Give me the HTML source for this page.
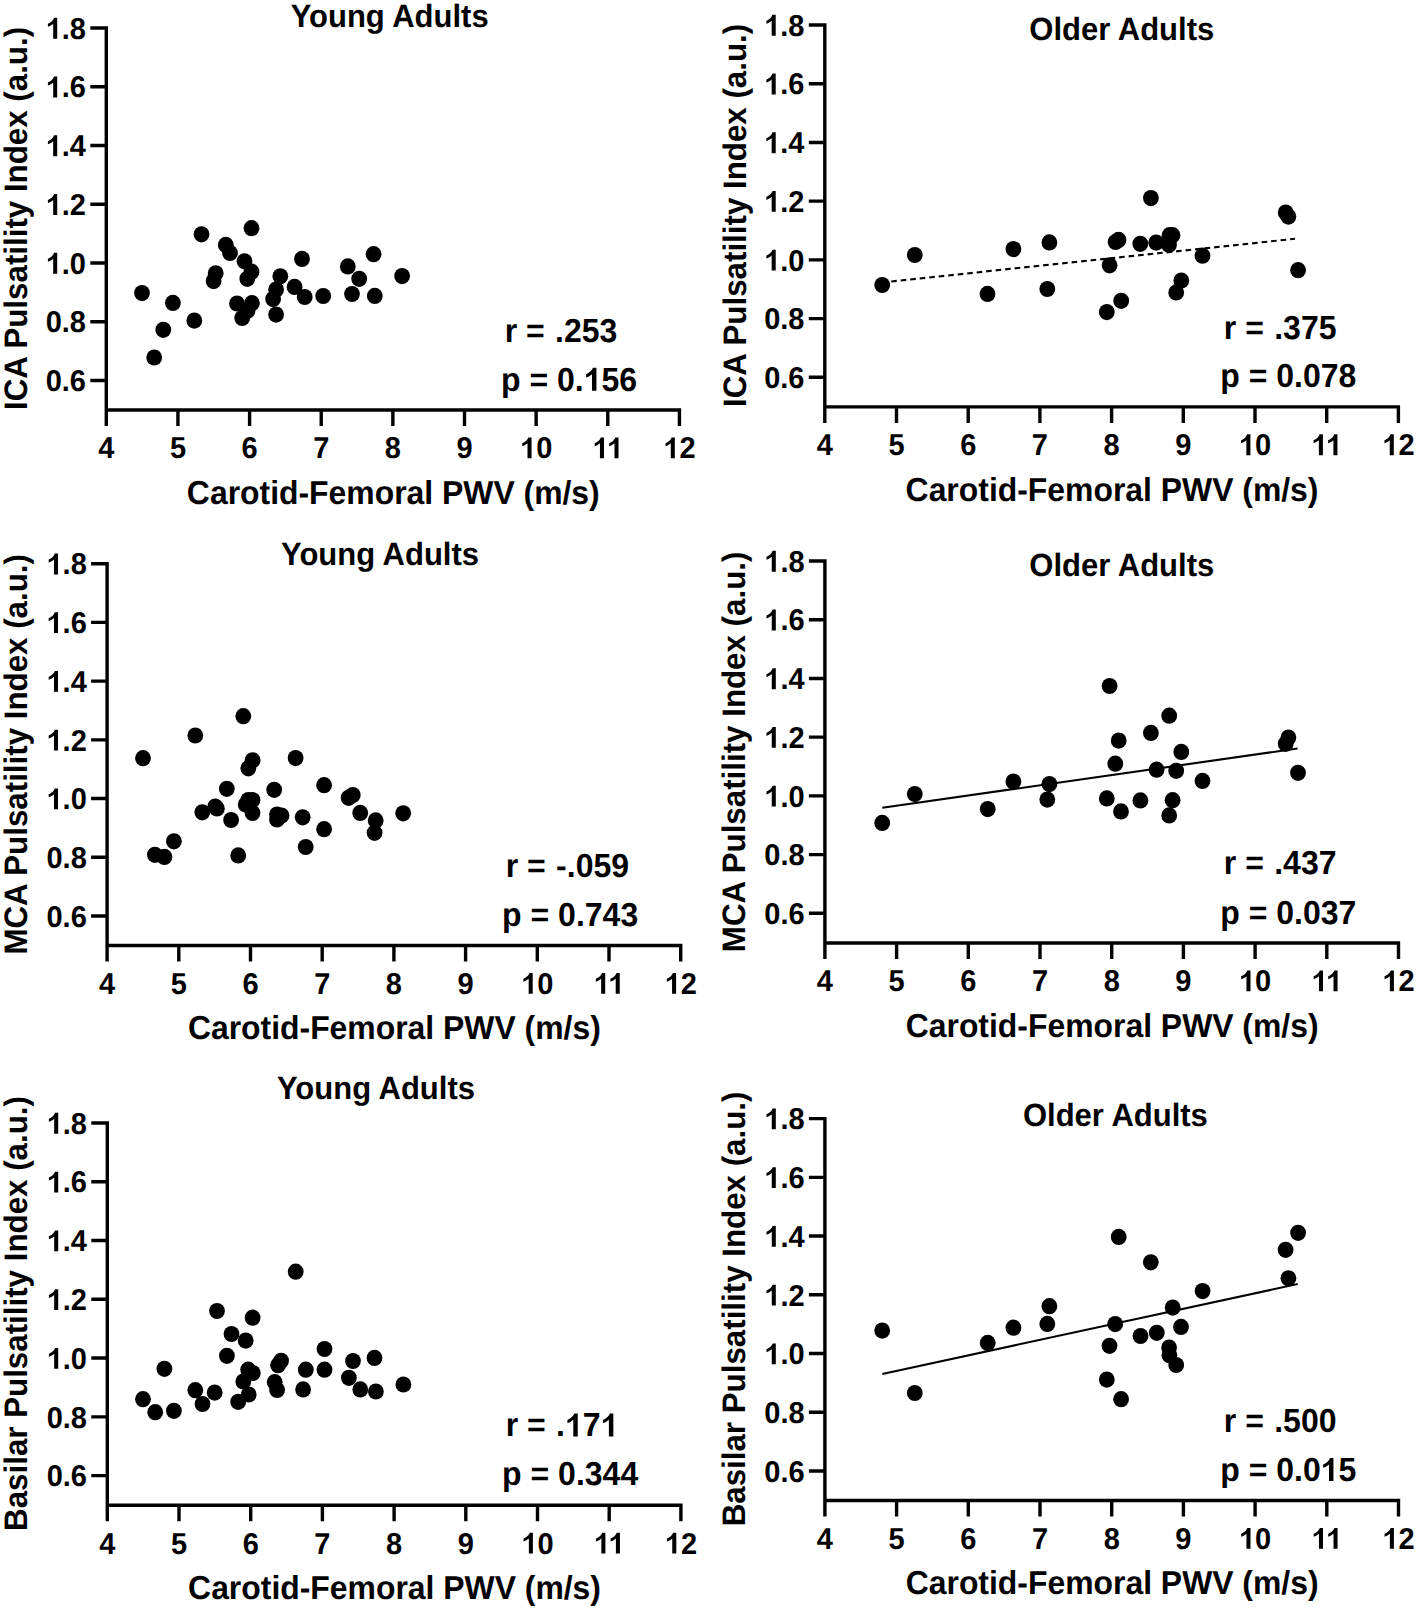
<!DOCTYPE html>
<html><head><meta charset="utf-8"><title>Pulsatility Index vs Carotid-Femoral PWV</title>
<style>
html,body{margin:0;padding:0;background:#fff;}
svg{display:block;}
text{font-family:"Liberation Sans", sans-serif;font-weight:bold;fill:#000;white-space:pre;text-rendering:geometricPrecision;}
.o{fill:none;}
</style></head><body>
<svg width="1417" height="1609" viewBox="0 0 1417 1609">
<rect x="0" y="0" width="1417" height="1609" fill="#fff"/>
<g>
<path d="M90.3 28H106.3V426" fill="none" stroke="#000" stroke-width="3.4"/>
<path d="M90.3 380.5H106.3M90.3 321.75H106.3M90.3 263H106.3M90.3 204.25H106.3M90.3 145.5H106.3M90.3 86.75H106.3" stroke="#000" stroke-width="3.4"/>
<path d="M106.3 410H679.42V426" fill="none" stroke="#000" stroke-width="3.4"/>
<path d="M177.94 410V426M249.58 410V426M321.22 410V426M392.86 410V426M464.5 410V426M536.14 410V426M607.78 410V426" stroke="#000" stroke-width="3.4"/>
<text id="t0" transform="translate(86 391.2) scale(1 1.04)" font-size="29" text-anchor="end">0.6</text>
<text id="t1" transform="translate(86 332.45) scale(1 1.04)" font-size="29" text-anchor="end">0.8</text>
<text id="t2" transform="translate(86 273.7) scale(1 1.04)" font-size="29" text-anchor="end"><tspan class="o">1</tspan>.0</text>
<text id="t3" transform="translate(86 214.95) scale(1 1.04)" font-size="29" text-anchor="end"><tspan class="o">1</tspan>.2</text>
<text id="t4" transform="translate(86 156.2) scale(1 1.04)" font-size="29" text-anchor="end"><tspan class="o">1</tspan>.4</text>
<text id="t5" transform="translate(86 97.45) scale(1 1.04)" font-size="29" text-anchor="end"><tspan class="o">1</tspan>.6</text>
<text id="t6" transform="translate(86 38.7) scale(1 1.04)" font-size="29" text-anchor="end"><tspan class="o">1</tspan>.8</text>
<text id="t7" transform="translate(106.3 458.3) scale(1 1.04)" font-size="29" text-anchor="middle">4</text>
<text id="t8" transform="translate(177.94 458.3) scale(1 1.04)" font-size="29" text-anchor="middle">5</text>
<text id="t9" transform="translate(249.58 458.3) scale(1 1.04)" font-size="29" text-anchor="middle">6</text>
<text id="t10" transform="translate(321.22 458.3) scale(1 1.04)" font-size="29" text-anchor="middle">7</text>
<text id="t11" transform="translate(392.86 458.3) scale(1 1.04)" font-size="29" text-anchor="middle">8</text>
<text id="t12" transform="translate(464.5 458.3) scale(1 1.04)" font-size="29" text-anchor="middle">9</text>
<text id="t13" transform="translate(536.14 458.3) scale(1 1.04)" font-size="29" text-anchor="middle"><tspan class="o">1</tspan>0</text>
<text id="t14" transform="translate(607.78 458.3) scale(1 1.04)" font-size="29" text-anchor="middle"><tspan class="o">1</tspan><tspan class="o">1</tspan></text>
<text id="t15" transform="translate(679.42 458.3) scale(1 1.04)" font-size="29" text-anchor="middle"><tspan class="o">1</tspan>2</text>
<text id="t16" transform="translate(186.86 503.6) scale(1 1.04)" font-size="31.9">Carotid-Femoral PWV (m/s)</text>
<text transform="translate(27.1 410.05) rotate(-90) scale(1 1.04)" font-size="31.3">ICA Pulsatility Index (a.u.)</text>
<text id="t17" transform="translate(290.65 26.8) scale(1 1.04)" font-size="31">Young Adults</text>
<text id="t18" transform="translate(504.7 341.8) scale(1 1.04)" font-size="32">r = <tspan dx="1.5">.</tspan>253</text>
<text id="t19" transform="translate(501 390.7) scale(1 1.04)" font-size="32">p = 0.<tspan class="o">1</tspan>56</text>
<ellipse cx="142" cy="293.1" rx="7.9" ry="8.1"/>
<ellipse cx="172.9" cy="302.9" rx="7.9" ry="8.1"/>
<ellipse cx="163.3" cy="329.8" rx="7.9" ry="8.1"/>
<ellipse cx="154.2" cy="357.5" rx="7.9" ry="8.1"/>
<ellipse cx="194.3" cy="320.6" rx="7.9" ry="8.1"/>
<ellipse cx="201.5" cy="234.3" rx="7.9" ry="8.1"/>
<ellipse cx="225.8" cy="244.9" rx="7.9" ry="8.1"/>
<ellipse cx="230" cy="252.9" rx="7.9" ry="8.1"/>
<ellipse cx="215.7" cy="273.3" rx="7.9" ry="8.1"/>
<ellipse cx="213.6" cy="281.1" rx="7.9" ry="8.1"/>
<ellipse cx="251.5" cy="228.2" rx="7.9" ry="8.1"/>
<ellipse cx="244.5" cy="261.3" rx="7.9" ry="8.1"/>
<ellipse cx="251.5" cy="271.7" rx="7.9" ry="8.1"/>
<ellipse cx="247.3" cy="278.8" rx="7.9" ry="8.1"/>
<ellipse cx="237" cy="303.5" rx="7.9" ry="8.1"/>
<ellipse cx="251.9" cy="303.2" rx="7.9" ry="8.1"/>
<ellipse cx="247.5" cy="310.8" rx="7.9" ry="8.1"/>
<ellipse cx="242.2" cy="318" rx="7.9" ry="8.1"/>
<ellipse cx="280.3" cy="276.3" rx="7.9" ry="8.1"/>
<ellipse cx="276.1" cy="289.5" rx="7.9" ry="8.1"/>
<ellipse cx="273.1" cy="299" rx="7.9" ry="8.1"/>
<ellipse cx="276.1" cy="314.6" rx="7.9" ry="8.1"/>
<ellipse cx="302" cy="258.9" rx="7.9" ry="8.1"/>
<ellipse cx="294.6" cy="286.9" rx="7.9" ry="8.1"/>
<ellipse cx="304.7" cy="297" rx="7.9" ry="8.1"/>
<ellipse cx="323.2" cy="296" rx="7.9" ry="8.1"/>
<ellipse cx="347.8" cy="266.4" rx="7.9" ry="8.1"/>
<ellipse cx="373.6" cy="254.2" rx="7.9" ry="8.1"/>
<ellipse cx="359.2" cy="278.8" rx="7.9" ry="8.1"/>
<ellipse cx="352" cy="294" rx="7.9" ry="8.1"/>
<ellipse cx="374.8" cy="295.9" rx="7.9" ry="8.1"/>
<ellipse cx="402.1" cy="276.1" rx="7.9" ry="8.1"/>
</g>
<g>
<path d="M808.8 25H824.8V422.9" fill="none" stroke="#000" stroke-width="3.4"/>
<path d="M808.8 377.3H824.8M808.8 318.58H824.8M808.8 259.87H824.8M808.8 201.15H824.8M808.8 142.43H824.8M808.8 83.72H824.8" stroke="#000" stroke-width="3.4"/>
<path d="M824.8 406.9H1398.4V422.9" fill="none" stroke="#000" stroke-width="3.4"/>
<path d="M896.5 406.9V422.9M968.2 406.9V422.9M1039.9 406.9V422.9M1111.6 406.9V422.9M1183.3 406.9V422.9M1255 406.9V422.9M1326.7 406.9V422.9" stroke="#000" stroke-width="3.4"/>
<text id="t20" transform="translate(804.5 388) scale(1 1.04)" font-size="29" text-anchor="end">0.6</text>
<text id="t21" transform="translate(804.5 329.28) scale(1 1.04)" font-size="29" text-anchor="end">0.8</text>
<text id="t22" transform="translate(804.5 270.57) scale(1 1.04)" font-size="29" text-anchor="end"><tspan class="o">1</tspan>.0</text>
<text id="t23" transform="translate(804.5 211.85) scale(1 1.04)" font-size="29" text-anchor="end"><tspan class="o">1</tspan>.2</text>
<text id="t24" transform="translate(804.5 153.13) scale(1 1.04)" font-size="29" text-anchor="end"><tspan class="o">1</tspan>.4</text>
<text id="t25" transform="translate(804.5 94.42) scale(1 1.04)" font-size="29" text-anchor="end"><tspan class="o">1</tspan>.6</text>
<text id="t26" transform="translate(804.5 35.7) scale(1 1.04)" font-size="29" text-anchor="end"><tspan class="o">1</tspan>.8</text>
<text id="t27" transform="translate(824.8 455.2) scale(1 1.04)" font-size="29" text-anchor="middle">4</text>
<text id="t28" transform="translate(896.5 455.2) scale(1 1.04)" font-size="29" text-anchor="middle">5</text>
<text id="t29" transform="translate(968.2 455.2) scale(1 1.04)" font-size="29" text-anchor="middle">6</text>
<text id="t30" transform="translate(1039.9 455.2) scale(1 1.04)" font-size="29" text-anchor="middle">7</text>
<text id="t31" transform="translate(1111.6 455.2) scale(1 1.04)" font-size="29" text-anchor="middle">8</text>
<text id="t32" transform="translate(1183.3 455.2) scale(1 1.04)" font-size="29" text-anchor="middle">9</text>
<text id="t33" transform="translate(1255 455.2) scale(1 1.04)" font-size="29" text-anchor="middle"><tspan class="o">1</tspan>0</text>
<text id="t34" transform="translate(1326.7 455.2) scale(1 1.04)" font-size="29" text-anchor="middle"><tspan class="o">1</tspan><tspan class="o">1</tspan></text>
<text id="t35" transform="translate(1398.4 455.2) scale(1 1.04)" font-size="29" text-anchor="middle"><tspan class="o">1</tspan>2</text>
<text id="t36" transform="translate(905.6 500.5) scale(1 1.04)" font-size="31.9">Carotid-Femoral PWV (m/s)</text>
<text transform="translate(746 406.95) rotate(-90) scale(1 1.04)" font-size="31.3">ICA Pulsatility Index (a.u.)</text>
<text id="t37" transform="translate(1029.35 39.5) scale(1 1.04)" font-size="31">Older Adults</text>
<text id="t38" transform="translate(1223.8 338.5) scale(1 1.04)" font-size="32">r = <tspan dx="1.5">.</tspan>375</text>
<text id="t39" transform="translate(1220.2 387.4) scale(1 1.04)" font-size="32">p = 0.078</text>
<line x1="882.2" y1="282.4" x2="1295" y2="238.8" stroke="#000" stroke-width="2.1" stroke-dasharray="5.6 3.95" stroke-dashoffset="0.5"/>
<ellipse cx="882.2" cy="285" rx="7.9" ry="8.1"/>
<ellipse cx="914.8" cy="255" rx="7.9" ry="8.1"/>
<ellipse cx="987.5" cy="293.9" rx="7.9" ry="8.1"/>
<ellipse cx="1013.4" cy="249.1" rx="7.9" ry="8.1"/>
<ellipse cx="1049.4" cy="242.4" rx="7.9" ry="8.1"/>
<ellipse cx="1047.3" cy="289" rx="7.9" ry="8.1"/>
<ellipse cx="1150.9" cy="198.1" rx="7.9" ry="8.1"/>
<ellipse cx="1115.6" cy="242" rx="7.9" ry="8.1"/>
<ellipse cx="1118.5" cy="239.9" rx="7.9" ry="8.1"/>
<ellipse cx="1140.3" cy="243.8" rx="7.9" ry="8.1"/>
<ellipse cx="1156.2" cy="242.6" rx="7.9" ry="8.1"/>
<ellipse cx="1169.6" cy="235.2" rx="7.9" ry="8.1"/>
<ellipse cx="1172.5" cy="235.2" rx="7.9" ry="8.1"/>
<ellipse cx="1169" cy="244.8" rx="7.9" ry="8.1"/>
<ellipse cx="1109.6" cy="265.3" rx="7.9" ry="8.1"/>
<ellipse cx="1202.5" cy="255.7" rx="7.9" ry="8.1"/>
<ellipse cx="1181.3" cy="280.5" rx="7.9" ry="8.1"/>
<ellipse cx="1176.2" cy="292.4" rx="7.9" ry="8.1"/>
<ellipse cx="1121.2" cy="300.8" rx="7.9" ry="8.1"/>
<ellipse cx="1106.8" cy="312.1" rx="7.9" ry="8.1"/>
<ellipse cx="1285.7" cy="212.5" rx="7.9" ry="8.1"/>
<ellipse cx="1288.4" cy="216.6" rx="7.9" ry="8.1"/>
<ellipse cx="1298.1" cy="270.2" rx="7.9" ry="8.1"/>
</g>
<g>
<path d="M91.1 563.7H107.1V961.5" fill="none" stroke="#000" stroke-width="3.4"/>
<path d="M91.1 916H107.1M91.1 857.28H107.1M91.1 798.57H107.1M91.1 739.85H107.1M91.1 681.13H107.1M91.1 622.42H107.1" stroke="#000" stroke-width="3.4"/>
<path d="M107.1 945.5H680.7V961.5" fill="none" stroke="#000" stroke-width="3.4"/>
<path d="M178.8 945.5V961.5M250.5 945.5V961.5M322.2 945.5V961.5M393.9 945.5V961.5M465.6 945.5V961.5M537.3 945.5V961.5M609 945.5V961.5" stroke="#000" stroke-width="3.4"/>
<text id="t40" transform="translate(86.8 926.7) scale(1 1.04)" font-size="29" text-anchor="end">0.6</text>
<text id="t41" transform="translate(86.8 867.98) scale(1 1.04)" font-size="29" text-anchor="end">0.8</text>
<text id="t42" transform="translate(86.8 809.27) scale(1 1.04)" font-size="29" text-anchor="end"><tspan class="o">1</tspan>.0</text>
<text id="t43" transform="translate(86.8 750.55) scale(1 1.04)" font-size="29" text-anchor="end"><tspan class="o">1</tspan>.2</text>
<text id="t44" transform="translate(86.8 691.83) scale(1 1.04)" font-size="29" text-anchor="end"><tspan class="o">1</tspan>.4</text>
<text id="t45" transform="translate(86.8 633.12) scale(1 1.04)" font-size="29" text-anchor="end"><tspan class="o">1</tspan>.6</text>
<text id="t46" transform="translate(86.8 574.4) scale(1 1.04)" font-size="29" text-anchor="end"><tspan class="o">1</tspan>.8</text>
<text id="t47" transform="translate(107.1 993.8) scale(1 1.04)" font-size="29" text-anchor="middle">4</text>
<text id="t48" transform="translate(178.8 993.8) scale(1 1.04)" font-size="29" text-anchor="middle">5</text>
<text id="t49" transform="translate(250.5 993.8) scale(1 1.04)" font-size="29" text-anchor="middle">6</text>
<text id="t50" transform="translate(322.2 993.8) scale(1 1.04)" font-size="29" text-anchor="middle">7</text>
<text id="t51" transform="translate(393.9 993.8) scale(1 1.04)" font-size="29" text-anchor="middle">8</text>
<text id="t52" transform="translate(465.6 993.8) scale(1 1.04)" font-size="29" text-anchor="middle">9</text>
<text id="t53" transform="translate(537.3 993.8) scale(1 1.04)" font-size="29" text-anchor="middle"><tspan class="o">1</tspan>0</text>
<text id="t54" transform="translate(609 993.8) scale(1 1.04)" font-size="29" text-anchor="middle"><tspan class="o">1</tspan><tspan class="o">1</tspan></text>
<text id="t55" transform="translate(680.7 993.8) scale(1 1.04)" font-size="29" text-anchor="middle"><tspan class="o">1</tspan>2</text>
<text id="t56" transform="translate(187.9 1039.1) scale(1 1.04)" font-size="31.9">Carotid-Femoral PWV (m/s)</text>
<text transform="translate(27 954.6) rotate(-90) scale(1 1.04)" font-size="31.3">MCA Pulsatility Index (a.u.)</text>
<text id="t57" transform="translate(281 564.8) scale(1 1.04)" font-size="31">Young Adults</text>
<text id="t58" transform="translate(505.7 877.2) scale(1 1.04)" font-size="32">r = <tspan dx="1.5">-</tspan>.059</text>
<text id="t59" transform="translate(502.1 926.1) scale(1 1.04)" font-size="32">p = 0.743</text>
<ellipse cx="143" cy="758.2" rx="7.9" ry="8.1"/>
<ellipse cx="195.3" cy="735.5" rx="7.9" ry="8.1"/>
<ellipse cx="243.3" cy="716.2" rx="7.9" ry="8.1"/>
<ellipse cx="252.6" cy="760.3" rx="7.9" ry="8.1"/>
<ellipse cx="248.3" cy="768.3" rx="7.9" ry="8.1"/>
<ellipse cx="226.8" cy="788.8" rx="7.9" ry="8.1"/>
<ellipse cx="202.3" cy="812.3" rx="7.9" ry="8.1"/>
<ellipse cx="215.2" cy="806.5" rx="7.9" ry="8.1"/>
<ellipse cx="216.9" cy="808.5" rx="7.9" ry="8.1"/>
<ellipse cx="231.1" cy="820" rx="7.9" ry="8.1"/>
<ellipse cx="248.3" cy="800.1" rx="7.9" ry="8.1"/>
<ellipse cx="252.5" cy="800.1" rx="7.9" ry="8.1"/>
<ellipse cx="245.7" cy="804.6" rx="7.9" ry="8.1"/>
<ellipse cx="252.5" cy="812.9" rx="7.9" ry="8.1"/>
<ellipse cx="274.2" cy="789.8" rx="7.9" ry="8.1"/>
<ellipse cx="277" cy="814.6" rx="7.9" ry="8.1"/>
<ellipse cx="281.5" cy="815.6" rx="7.9" ry="8.1"/>
<ellipse cx="277" cy="819.5" rx="7.9" ry="8.1"/>
<ellipse cx="173.9" cy="841.3" rx="7.9" ry="8.1"/>
<ellipse cx="154.9" cy="854.8" rx="7.9" ry="8.1"/>
<ellipse cx="164.4" cy="856.9" rx="7.9" ry="8.1"/>
<ellipse cx="238.2" cy="855.4" rx="7.9" ry="8.1"/>
<ellipse cx="295.6" cy="758.1" rx="7.9" ry="8.1"/>
<ellipse cx="324.1" cy="785.2" rx="7.9" ry="8.1"/>
<ellipse cx="348.6" cy="797.8" rx="7.9" ry="8.1"/>
<ellipse cx="352.8" cy="795" rx="7.9" ry="8.1"/>
<ellipse cx="360.2" cy="812.9" rx="7.9" ry="8.1"/>
<ellipse cx="375.7" cy="820.4" rx="7.9" ry="8.1"/>
<ellipse cx="374.6" cy="832.8" rx="7.9" ry="8.1"/>
<ellipse cx="403.2" cy="813.3" rx="7.9" ry="8.1"/>
<ellipse cx="302.7" cy="817.3" rx="7.9" ry="8.1"/>
<ellipse cx="324.1" cy="829.2" rx="7.9" ry="8.1"/>
<ellipse cx="305.7" cy="847" rx="7.9" ry="8.1"/>
</g>
<g>
<path d="M808.9 561H824.9V959" fill="none" stroke="#000" stroke-width="3.4"/>
<path d="M808.9 913.3H824.9M808.9 854.58H824.9M808.9 795.87H824.9M808.9 737.15H824.9M808.9 678.43H824.9M808.9 619.72H824.9" stroke="#000" stroke-width="3.4"/>
<path d="M824.9 943H1398.5V959" fill="none" stroke="#000" stroke-width="3.4"/>
<path d="M896.6 943V959M968.3 943V959M1040 943V959M1111.7 943V959M1183.4 943V959M1255.1 943V959M1326.8 943V959" stroke="#000" stroke-width="3.4"/>
<text id="t60" transform="translate(804.6 924) scale(1 1.04)" font-size="29" text-anchor="end">0.6</text>
<text id="t61" transform="translate(804.6 865.28) scale(1 1.04)" font-size="29" text-anchor="end">0.8</text>
<text id="t62" transform="translate(804.6 806.57) scale(1 1.04)" font-size="29" text-anchor="end"><tspan class="o">1</tspan>.0</text>
<text id="t63" transform="translate(804.6 747.85) scale(1 1.04)" font-size="29" text-anchor="end"><tspan class="o">1</tspan>.2</text>
<text id="t64" transform="translate(804.6 689.13) scale(1 1.04)" font-size="29" text-anchor="end"><tspan class="o">1</tspan>.4</text>
<text id="t65" transform="translate(804.6 630.42) scale(1 1.04)" font-size="29" text-anchor="end"><tspan class="o">1</tspan>.6</text>
<text id="t66" transform="translate(804.6 571.7) scale(1 1.04)" font-size="29" text-anchor="end"><tspan class="o">1</tspan>.8</text>
<text id="t67" transform="translate(824.9 991.3) scale(1 1.04)" font-size="29" text-anchor="middle">4</text>
<text id="t68" transform="translate(896.6 991.3) scale(1 1.04)" font-size="29" text-anchor="middle">5</text>
<text id="t69" transform="translate(968.3 991.3) scale(1 1.04)" font-size="29" text-anchor="middle">6</text>
<text id="t70" transform="translate(1040 991.3) scale(1 1.04)" font-size="29" text-anchor="middle">7</text>
<text id="t71" transform="translate(1111.7 991.3) scale(1 1.04)" font-size="29" text-anchor="middle">8</text>
<text id="t72" transform="translate(1183.4 991.3) scale(1 1.04)" font-size="29" text-anchor="middle">9</text>
<text id="t73" transform="translate(1255.1 991.3) scale(1 1.04)" font-size="29" text-anchor="middle"><tspan class="o">1</tspan>0</text>
<text id="t74" transform="translate(1326.8 991.3) scale(1 1.04)" font-size="29" text-anchor="middle"><tspan class="o">1</tspan><tspan class="o">1</tspan></text>
<text id="t75" transform="translate(1398.5 991.3) scale(1 1.04)" font-size="29" text-anchor="middle"><tspan class="o">1</tspan>2</text>
<text id="t76" transform="translate(905.7 1036.6) scale(1 1.04)" font-size="31.9">Carotid-Femoral PWV (m/s)</text>
<text transform="translate(745 952.15) rotate(-90) scale(1 1.04)" font-size="31.3">MCA Pulsatility Index (a.u.)</text>
<text id="t77" transform="translate(1029.35 575.5) scale(1 1.04)" font-size="31">Older Adults</text>
<text id="t78" transform="translate(1223.8 874.4) scale(1 1.04)" font-size="32">r = <tspan dx="1.5">.</tspan>437</text>
<text id="t79" transform="translate(1220.2 923.8) scale(1 1.04)" font-size="32">p = 0.037</text>
<line x1="882.3" y1="807.8" x2="1297.6" y2="748.5" stroke="#000" stroke-width="2.1"/>
<ellipse cx="882.2" cy="822.9" rx="7.9" ry="8.1"/>
<ellipse cx="914.8" cy="794" rx="7.9" ry="8.1"/>
<ellipse cx="987.7" cy="809.1" rx="7.9" ry="8.1"/>
<ellipse cx="1013.4" cy="781.6" rx="7.9" ry="8.1"/>
<ellipse cx="1049.4" cy="784.1" rx="7.9" ry="8.1"/>
<ellipse cx="1047.3" cy="799.6" rx="7.9" ry="8.1"/>
<ellipse cx="1109.6" cy="686" rx="7.9" ry="8.1"/>
<ellipse cx="1169.2" cy="715.7" rx="7.9" ry="8.1"/>
<ellipse cx="1150.9" cy="732.9" rx="7.9" ry="8.1"/>
<ellipse cx="1118.7" cy="740.6" rx="7.9" ry="8.1"/>
<ellipse cx="1181.3" cy="751.9" rx="7.9" ry="8.1"/>
<ellipse cx="1115.3" cy="763.7" rx="7.9" ry="8.1"/>
<ellipse cx="1156.6" cy="769.7" rx="7.9" ry="8.1"/>
<ellipse cx="1176.2" cy="770.8" rx="7.9" ry="8.1"/>
<ellipse cx="1202.5" cy="780.9" rx="7.9" ry="8.1"/>
<ellipse cx="1106.8" cy="798.4" rx="7.9" ry="8.1"/>
<ellipse cx="1121" cy="811.4" rx="7.9" ry="8.1"/>
<ellipse cx="1140.4" cy="800.4" rx="7.9" ry="8.1"/>
<ellipse cx="1172.6" cy="800.2" rx="7.9" ry="8.1"/>
<ellipse cx="1169.2" cy="815.4" rx="7.9" ry="8.1"/>
<ellipse cx="1288.4" cy="737.6" rx="7.9" ry="8.1"/>
<ellipse cx="1285.7" cy="743.8" rx="7.9" ry="8.1"/>
<ellipse cx="1298" cy="772.8" rx="7.9" ry="8.1"/>
</g>
<g>
<path d="M91.3 1123H107.3V1521.2" fill="none" stroke="#000" stroke-width="3.4"/>
<path d="M91.3 1475.6H107.3M91.3 1416.83H107.3M91.3 1358.07H107.3M91.3 1299.3H107.3M91.3 1240.53H107.3M91.3 1181.77H107.3" stroke="#000" stroke-width="3.4"/>
<path d="M107.3 1505.2H680.9V1521.2" fill="none" stroke="#000" stroke-width="3.4"/>
<path d="M179 1505.2V1521.2M250.7 1505.2V1521.2M322.4 1505.2V1521.2M394.1 1505.2V1521.2M465.8 1505.2V1521.2M537.5 1505.2V1521.2M609.2 1505.2V1521.2" stroke="#000" stroke-width="3.4"/>
<text id="t80" transform="translate(87 1486.3) scale(1 1.04)" font-size="29" text-anchor="end">0.6</text>
<text id="t81" transform="translate(87 1427.53) scale(1 1.04)" font-size="29" text-anchor="end">0.8</text>
<text id="t82" transform="translate(87 1368.77) scale(1 1.04)" font-size="29" text-anchor="end"><tspan class="o">1</tspan>.0</text>
<text id="t83" transform="translate(87 1310) scale(1 1.04)" font-size="29" text-anchor="end"><tspan class="o">1</tspan>.2</text>
<text id="t84" transform="translate(87 1251.23) scale(1 1.04)" font-size="29" text-anchor="end"><tspan class="o">1</tspan>.4</text>
<text id="t85" transform="translate(87 1192.47) scale(1 1.04)" font-size="29" text-anchor="end"><tspan class="o">1</tspan>.6</text>
<text id="t86" transform="translate(87 1133.7) scale(1 1.04)" font-size="29" text-anchor="end"><tspan class="o">1</tspan>.8</text>
<text id="t87" transform="translate(107.3 1553.5) scale(1 1.04)" font-size="29" text-anchor="middle">4</text>
<text id="t88" transform="translate(179 1553.5) scale(1 1.04)" font-size="29" text-anchor="middle">5</text>
<text id="t89" transform="translate(250.7 1553.5) scale(1 1.04)" font-size="29" text-anchor="middle">6</text>
<text id="t90" transform="translate(322.4 1553.5) scale(1 1.04)" font-size="29" text-anchor="middle">7</text>
<text id="t91" transform="translate(394.1 1553.5) scale(1 1.04)" font-size="29" text-anchor="middle">8</text>
<text id="t92" transform="translate(465.8 1553.5) scale(1 1.04)" font-size="29" text-anchor="middle">9</text>
<text id="t93" transform="translate(537.5 1553.5) scale(1 1.04)" font-size="29" text-anchor="middle"><tspan class="o">1</tspan>0</text>
<text id="t94" transform="translate(609.2 1553.5) scale(1 1.04)" font-size="29" text-anchor="middle"><tspan class="o">1</tspan><tspan class="o">1</tspan></text>
<text id="t95" transform="translate(680.9 1553.5) scale(1 1.04)" font-size="29" text-anchor="middle"><tspan class="o">1</tspan>2</text>
<text id="t96" transform="translate(188.1 1598.8) scale(1 1.04)" font-size="31.9">Carotid-Femoral PWV (m/s)</text>
<text transform="translate(27.2 1530.9) rotate(-90) scale(1 1.04)" font-size="31.3">Basilar Pulsatility Index (a.u.)</text>
<text id="t97" transform="translate(276.95 1099) scale(1 1.04)" font-size="31">Young Adults</text>
<text id="t98" transform="translate(505.7 1436.4) scale(1 1.04)" font-size="32">r = <tspan dx="1.5">.</tspan><tspan class="o">1</tspan>7<tspan class="o">1</tspan></text>
<text id="t99" transform="translate(502.1 1485.4) scale(1 1.04)" font-size="32">p = 0.344</text>
<ellipse cx="217" cy="1311" rx="7.9" ry="8.1"/>
<ellipse cx="252.6" cy="1317.7" rx="7.9" ry="8.1"/>
<ellipse cx="231.5" cy="1334" rx="7.9" ry="8.1"/>
<ellipse cx="245.7" cy="1340.6" rx="7.9" ry="8.1"/>
<ellipse cx="226.9" cy="1355.8" rx="7.9" ry="8.1"/>
<ellipse cx="164.4" cy="1368.8" rx="7.9" ry="8.1"/>
<ellipse cx="143" cy="1399.2" rx="7.9" ry="8.1"/>
<ellipse cx="155.2" cy="1412.2" rx="7.9" ry="8.1"/>
<ellipse cx="173.9" cy="1410.8" rx="7.9" ry="8.1"/>
<ellipse cx="195.3" cy="1390.2" rx="7.9" ry="8.1"/>
<ellipse cx="214.7" cy="1392.6" rx="7.9" ry="8.1"/>
<ellipse cx="202.5" cy="1404" rx="7.9" ry="8.1"/>
<ellipse cx="248.2" cy="1369.7" rx="7.9" ry="8.1"/>
<ellipse cx="252.8" cy="1373" rx="7.9" ry="8.1"/>
<ellipse cx="243.3" cy="1381.5" rx="7.9" ry="8.1"/>
<ellipse cx="248.7" cy="1394.5" rx="7.9" ry="8.1"/>
<ellipse cx="238.2" cy="1401.8" rx="7.9" ry="8.1"/>
<ellipse cx="295.7" cy="1271.7" rx="7.9" ry="8.1"/>
<ellipse cx="281.1" cy="1360.8" rx="7.9" ry="8.1"/>
<ellipse cx="278.1" cy="1365.2" rx="7.9" ry="8.1"/>
<ellipse cx="274.7" cy="1382.2" rx="7.9" ry="8.1"/>
<ellipse cx="277.1" cy="1390" rx="7.9" ry="8.1"/>
<ellipse cx="305.8" cy="1369.7" rx="7.9" ry="8.1"/>
<ellipse cx="303.1" cy="1389.4" rx="7.9" ry="8.1"/>
<ellipse cx="324.5" cy="1349" rx="7.9" ry="8.1"/>
<ellipse cx="324.5" cy="1369.7" rx="7.9" ry="8.1"/>
<ellipse cx="353" cy="1361" rx="7.9" ry="8.1"/>
<ellipse cx="374.5" cy="1357.9" rx="7.9" ry="8.1"/>
<ellipse cx="348.9" cy="1377.8" rx="7.9" ry="8.1"/>
<ellipse cx="360.3" cy="1389.4" rx="7.9" ry="8.1"/>
<ellipse cx="375.9" cy="1391.5" rx="7.9" ry="8.1"/>
<ellipse cx="403.4" cy="1384.5" rx="7.9" ry="8.1"/>
</g>
<g>
<path d="M808.9 1118.6H824.9V1516.5" fill="none" stroke="#000" stroke-width="3.4"/>
<path d="M808.9 1471H824.9M808.9 1412.27H824.9M808.9 1353.53H824.9M808.9 1294.8H824.9M808.9 1236.07H824.9M808.9 1177.33H824.9" stroke="#000" stroke-width="3.4"/>
<path d="M824.9 1500.5H1398.5V1516.5" fill="none" stroke="#000" stroke-width="3.4"/>
<path d="M896.6 1500.5V1516.5M968.3 1500.5V1516.5M1040 1500.5V1516.5M1111.7 1500.5V1516.5M1183.4 1500.5V1516.5M1255.1 1500.5V1516.5M1326.8 1500.5V1516.5" stroke="#000" stroke-width="3.4"/>
<text id="t100" transform="translate(804.6 1481.7) scale(1 1.04)" font-size="29" text-anchor="end">0.6</text>
<text id="t101" transform="translate(804.6 1422.97) scale(1 1.04)" font-size="29" text-anchor="end">0.8</text>
<text id="t102" transform="translate(804.6 1364.23) scale(1 1.04)" font-size="29" text-anchor="end"><tspan class="o">1</tspan>.0</text>
<text id="t103" transform="translate(804.6 1305.5) scale(1 1.04)" font-size="29" text-anchor="end"><tspan class="o">1</tspan>.2</text>
<text id="t104" transform="translate(804.6 1246.77) scale(1 1.04)" font-size="29" text-anchor="end"><tspan class="o">1</tspan>.4</text>
<text id="t105" transform="translate(804.6 1188.03) scale(1 1.04)" font-size="29" text-anchor="end"><tspan class="o">1</tspan>.6</text>
<text id="t106" transform="translate(804.6 1129.3) scale(1 1.04)" font-size="29" text-anchor="end"><tspan class="o">1</tspan>.8</text>
<text id="t107" transform="translate(824.9 1548.8) scale(1 1.04)" font-size="29" text-anchor="middle">4</text>
<text id="t108" transform="translate(896.6 1548.8) scale(1 1.04)" font-size="29" text-anchor="middle">5</text>
<text id="t109" transform="translate(968.3 1548.8) scale(1 1.04)" font-size="29" text-anchor="middle">6</text>
<text id="t110" transform="translate(1040 1548.8) scale(1 1.04)" font-size="29" text-anchor="middle">7</text>
<text id="t111" transform="translate(1111.7 1548.8) scale(1 1.04)" font-size="29" text-anchor="middle">8</text>
<text id="t112" transform="translate(1183.4 1548.8) scale(1 1.04)" font-size="29" text-anchor="middle">9</text>
<text id="t113" transform="translate(1255.1 1548.8) scale(1 1.04)" font-size="29" text-anchor="middle"><tspan class="o">1</tspan>0</text>
<text id="t114" transform="translate(1326.8 1548.8) scale(1 1.04)" font-size="29" text-anchor="middle"><tspan class="o">1</tspan><tspan class="o">1</tspan></text>
<text id="t115" transform="translate(1398.5 1548.8) scale(1 1.04)" font-size="29" text-anchor="middle"><tspan class="o">1</tspan>2</text>
<text id="t116" transform="translate(905.7 1594.1) scale(1 1.04)" font-size="31.9">Carotid-Femoral PWV (m/s)</text>
<text transform="translate(745 1526.35) rotate(-90) scale(1 1.04)" font-size="31.3">Basilar Pulsatility Index (a.u.)</text>
<text id="t117" transform="translate(1022.95 1126) scale(1 1.04)" font-size="31">Older Adults</text>
<text id="t118" transform="translate(1223.8 1432) scale(1 1.04)" font-size="32">r = <tspan dx="1.5">.</tspan>500</text>
<text id="t119" transform="translate(1220.2 1481) scale(1 1.04)" font-size="32">p = 0.0<tspan class="o">1</tspan>5</text>
<line x1="882.3" y1="1374" x2="1297.7" y2="1284" stroke="#000" stroke-width="2.1"/>
<ellipse cx="882.2" cy="1330.6" rx="7.9" ry="8.1"/>
<ellipse cx="914.8" cy="1393" rx="7.9" ry="8.1"/>
<ellipse cx="987.7" cy="1342.9" rx="7.9" ry="8.1"/>
<ellipse cx="1013.4" cy="1327.7" rx="7.9" ry="8.1"/>
<ellipse cx="1049.4" cy="1306.2" rx="7.9" ry="8.1"/>
<ellipse cx="1047.3" cy="1323.9" rx="7.9" ry="8.1"/>
<ellipse cx="1118.7" cy="1236.9" rx="7.9" ry="8.1"/>
<ellipse cx="1150.8" cy="1262.3" rx="7.9" ry="8.1"/>
<ellipse cx="1202.6" cy="1291.1" rx="7.9" ry="8.1"/>
<ellipse cx="1172.7" cy="1307.6" rx="7.9" ry="8.1"/>
<ellipse cx="1115.2" cy="1324.1" rx="7.9" ry="8.1"/>
<ellipse cx="1181" cy="1326.9" rx="7.9" ry="8.1"/>
<ellipse cx="1156.8" cy="1332.8" rx="7.9" ry="8.1"/>
<ellipse cx="1140.5" cy="1336" rx="7.9" ry="8.1"/>
<ellipse cx="1109.5" cy="1345.8" rx="7.9" ry="8.1"/>
<ellipse cx="1169.1" cy="1347.5" rx="7.9" ry="8.1"/>
<ellipse cx="1169.4" cy="1355.2" rx="7.9" ry="8.1"/>
<ellipse cx="1176.2" cy="1365" rx="7.9" ry="8.1"/>
<ellipse cx="1106.8" cy="1379.6" rx="7.9" ry="8.1"/>
<ellipse cx="1121.1" cy="1399.2" rx="7.9" ry="8.1"/>
<ellipse cx="1298.1" cy="1232.8" rx="7.9" ry="8.1"/>
<ellipse cx="1285.6" cy="1249.8" rx="7.9" ry="8.1"/>
<ellipse cx="1288.4" cy="1278.3" rx="7.9" ry="8.1"/>
</g>
<g>
<path transform="translate(86 273.7) scale(1 1.04) translate(-40.33 0) scale(0.014160 -0.014160)" d="M815 0H530V1020C430 930 300 861 156 813V1019C260 1058 380 1125 470 1221C520 1274 565 1341 590 1415H815Z"/>
<path transform="translate(86 214.95) scale(1 1.04) translate(-40.33 0) scale(0.014160 -0.014160)" d="M815 0H530V1020C430 930 300 861 156 813V1019C260 1058 380 1125 470 1221C520 1274 565 1341 590 1415H815Z"/>
<path transform="translate(86 156.2) scale(1 1.04) translate(-40.33 0) scale(0.014160 -0.014160)" d="M815 0H530V1020C430 930 300 861 156 813V1019C260 1058 380 1125 470 1221C520 1274 565 1341 590 1415H815Z"/>
<path transform="translate(86 97.45) scale(1 1.04) translate(-40.33 0) scale(0.014160 -0.014160)" d="M815 0H530V1020C430 930 300 861 156 813V1019C260 1058 380 1125 470 1221C520 1274 565 1341 590 1415H815Z"/>
<path transform="translate(86 38.7) scale(1 1.04) translate(-40.33 0) scale(0.014160 -0.014160)" d="M815 0H530V1020C430 930 300 861 156 813V1019C260 1058 380 1125 470 1221C520 1274 565 1341 590 1415H815Z"/>
<path transform="translate(536.14 458.3) scale(1 1.04) translate(-16.14 0) scale(0.014160 -0.014160)" d="M815 0H530V1020C430 930 300 861 156 813V1019C260 1058 380 1125 470 1221C520 1274 565 1341 590 1415H815Z"/>
<path transform="translate(607.78 458.3) scale(1 1.04) translate(-15.34 0) scale(0.014160 -0.014160)" d="M815 0H530V1020C430 930 300 861 156 813V1019C260 1058 380 1125 470 1221C520 1274 565 1341 590 1415H815Z"/>
<path transform="translate(607.78 458.3) scale(1 1.04) translate(-0.8 0) scale(0.014160 -0.014160)" d="M815 0H530V1020C430 930 300 861 156 813V1019C260 1058 380 1125 470 1221C520 1274 565 1341 590 1415H815Z"/>
<path transform="translate(679.42 458.3) scale(1 1.04) translate(-16.14 0) scale(0.014160 -0.014160)" d="M815 0H530V1020C430 930 300 861 156 813V1019C260 1058 380 1125 470 1221C520 1274 565 1341 590 1415H815Z"/>
<path transform="translate(501 390.7) scale(1 1.04) translate(82.7 0) scale(0.015625 -0.015625)" d="M815 0H530V1020C430 930 300 861 156 813V1019C260 1058 380 1125 470 1221C520 1274 565 1341 590 1415H815Z"/>
<path transform="translate(804.5 270.57) scale(1 1.04) translate(-40.33 0) scale(0.014160 -0.014160)" d="M815 0H530V1020C430 930 300 861 156 813V1019C260 1058 380 1125 470 1221C520 1274 565 1341 590 1415H815Z"/>
<path transform="translate(804.5 211.85) scale(1 1.04) translate(-40.33 0) scale(0.014160 -0.014160)" d="M815 0H530V1020C430 930 300 861 156 813V1019C260 1058 380 1125 470 1221C520 1274 565 1341 590 1415H815Z"/>
<path transform="translate(804.5 153.13) scale(1 1.04) translate(-40.33 0) scale(0.014160 -0.014160)" d="M815 0H530V1020C430 930 300 861 156 813V1019C260 1058 380 1125 470 1221C520 1274 565 1341 590 1415H815Z"/>
<path transform="translate(804.5 94.42) scale(1 1.04) translate(-40.33 0) scale(0.014160 -0.014160)" d="M815 0H530V1020C430 930 300 861 156 813V1019C260 1058 380 1125 470 1221C520 1274 565 1341 590 1415H815Z"/>
<path transform="translate(804.5 35.7) scale(1 1.04) translate(-40.33 0) scale(0.014160 -0.014160)" d="M815 0H530V1020C430 930 300 861 156 813V1019C260 1058 380 1125 470 1221C520 1274 565 1341 590 1415H815Z"/>
<path transform="translate(1255 455.2) scale(1 1.04) translate(-16.14 0) scale(0.014160 -0.014160)" d="M815 0H530V1020C430 930 300 861 156 813V1019C260 1058 380 1125 470 1221C520 1274 565 1341 590 1415H815Z"/>
<path transform="translate(1326.7 455.2) scale(1 1.04) translate(-15.34 0) scale(0.014160 -0.014160)" d="M815 0H530V1020C430 930 300 861 156 813V1019C260 1058 380 1125 470 1221C520 1274 565 1341 590 1415H815Z"/>
<path transform="translate(1326.7 455.2) scale(1 1.04) translate(-0.8 0) scale(0.014160 -0.014160)" d="M815 0H530V1020C430 930 300 861 156 813V1019C260 1058 380 1125 470 1221C520 1274 565 1341 590 1415H815Z"/>
<path transform="translate(1398.4 455.2) scale(1 1.04) translate(-16.14 0) scale(0.014160 -0.014160)" d="M815 0H530V1020C430 930 300 861 156 813V1019C260 1058 380 1125 470 1221C520 1274 565 1341 590 1415H815Z"/>
<path transform="translate(86.8 809.27) scale(1 1.04) translate(-40.33 0) scale(0.014160 -0.014160)" d="M815 0H530V1020C430 930 300 861 156 813V1019C260 1058 380 1125 470 1221C520 1274 565 1341 590 1415H815Z"/>
<path transform="translate(86.8 750.55) scale(1 1.04) translate(-40.33 0) scale(0.014160 -0.014160)" d="M815 0H530V1020C430 930 300 861 156 813V1019C260 1058 380 1125 470 1221C520 1274 565 1341 590 1415H815Z"/>
<path transform="translate(86.8 691.83) scale(1 1.04) translate(-40.33 0) scale(0.014160 -0.014160)" d="M815 0H530V1020C430 930 300 861 156 813V1019C260 1058 380 1125 470 1221C520 1274 565 1341 590 1415H815Z"/>
<path transform="translate(86.8 633.12) scale(1 1.04) translate(-40.33 0) scale(0.014160 -0.014160)" d="M815 0H530V1020C430 930 300 861 156 813V1019C260 1058 380 1125 470 1221C520 1274 565 1341 590 1415H815Z"/>
<path transform="translate(86.8 574.4) scale(1 1.04) translate(-40.33 0) scale(0.014160 -0.014160)" d="M815 0H530V1020C430 930 300 861 156 813V1019C260 1058 380 1125 470 1221C520 1274 565 1341 590 1415H815Z"/>
<path transform="translate(537.3 993.8) scale(1 1.04) translate(-16.14 0) scale(0.014160 -0.014160)" d="M815 0H530V1020C430 930 300 861 156 813V1019C260 1058 380 1125 470 1221C520 1274 565 1341 590 1415H815Z"/>
<path transform="translate(609 993.8) scale(1 1.04) translate(-15.34 0) scale(0.014160 -0.014160)" d="M815 0H530V1020C430 930 300 861 156 813V1019C260 1058 380 1125 470 1221C520 1274 565 1341 590 1415H815Z"/>
<path transform="translate(609 993.8) scale(1 1.04) translate(-0.8 0) scale(0.014160 -0.014160)" d="M815 0H530V1020C430 930 300 861 156 813V1019C260 1058 380 1125 470 1221C520 1274 565 1341 590 1415H815Z"/>
<path transform="translate(680.7 993.8) scale(1 1.04) translate(-16.14 0) scale(0.014160 -0.014160)" d="M815 0H530V1020C430 930 300 861 156 813V1019C260 1058 380 1125 470 1221C520 1274 565 1341 590 1415H815Z"/>
<path transform="translate(804.6 806.57) scale(1 1.04) translate(-40.33 0) scale(0.014160 -0.014160)" d="M815 0H530V1020C430 930 300 861 156 813V1019C260 1058 380 1125 470 1221C520 1274 565 1341 590 1415H815Z"/>
<path transform="translate(804.6 747.85) scale(1 1.04) translate(-40.33 0) scale(0.014160 -0.014160)" d="M815 0H530V1020C430 930 300 861 156 813V1019C260 1058 380 1125 470 1221C520 1274 565 1341 590 1415H815Z"/>
<path transform="translate(804.6 689.13) scale(1 1.04) translate(-40.33 0) scale(0.014160 -0.014160)" d="M815 0H530V1020C430 930 300 861 156 813V1019C260 1058 380 1125 470 1221C520 1274 565 1341 590 1415H815Z"/>
<path transform="translate(804.6 630.42) scale(1 1.04) translate(-40.33 0) scale(0.014160 -0.014160)" d="M815 0H530V1020C430 930 300 861 156 813V1019C260 1058 380 1125 470 1221C520 1274 565 1341 590 1415H815Z"/>
<path transform="translate(804.6 571.7) scale(1 1.04) translate(-40.33 0) scale(0.014160 -0.014160)" d="M815 0H530V1020C430 930 300 861 156 813V1019C260 1058 380 1125 470 1221C520 1274 565 1341 590 1415H815Z"/>
<path transform="translate(1255.1 991.3) scale(1 1.04) translate(-16.14 0) scale(0.014160 -0.014160)" d="M815 0H530V1020C430 930 300 861 156 813V1019C260 1058 380 1125 470 1221C520 1274 565 1341 590 1415H815Z"/>
<path transform="translate(1326.8 991.3) scale(1 1.04) translate(-15.34 0) scale(0.014160 -0.014160)" d="M815 0H530V1020C430 930 300 861 156 813V1019C260 1058 380 1125 470 1221C520 1274 565 1341 590 1415H815Z"/>
<path transform="translate(1326.8 991.3) scale(1 1.04) translate(-0.8 0) scale(0.014160 -0.014160)" d="M815 0H530V1020C430 930 300 861 156 813V1019C260 1058 380 1125 470 1221C520 1274 565 1341 590 1415H815Z"/>
<path transform="translate(1398.5 991.3) scale(1 1.04) translate(-16.14 0) scale(0.014160 -0.014160)" d="M815 0H530V1020C430 930 300 861 156 813V1019C260 1058 380 1125 470 1221C520 1274 565 1341 590 1415H815Z"/>
<path transform="translate(87 1368.77) scale(1 1.04) translate(-40.33 0) scale(0.014160 -0.014160)" d="M815 0H530V1020C430 930 300 861 156 813V1019C260 1058 380 1125 470 1221C520 1274 565 1341 590 1415H815Z"/>
<path transform="translate(87 1310) scale(1 1.04) translate(-40.33 0) scale(0.014160 -0.014160)" d="M815 0H530V1020C430 930 300 861 156 813V1019C260 1058 380 1125 470 1221C520 1274 565 1341 590 1415H815Z"/>
<path transform="translate(87 1251.23) scale(1 1.04) translate(-40.33 0) scale(0.014160 -0.014160)" d="M815 0H530V1020C430 930 300 861 156 813V1019C260 1058 380 1125 470 1221C520 1274 565 1341 590 1415H815Z"/>
<path transform="translate(87 1192.47) scale(1 1.04) translate(-40.33 0) scale(0.014160 -0.014160)" d="M815 0H530V1020C430 930 300 861 156 813V1019C260 1058 380 1125 470 1221C520 1274 565 1341 590 1415H815Z"/>
<path transform="translate(87 1133.7) scale(1 1.04) translate(-40.33 0) scale(0.014160 -0.014160)" d="M815 0H530V1020C430 930 300 861 156 813V1019C260 1058 380 1125 470 1221C520 1274 565 1341 590 1415H815Z"/>
<path transform="translate(537.5 1553.5) scale(1 1.04) translate(-16.14 0) scale(0.014160 -0.014160)" d="M815 0H530V1020C430 930 300 861 156 813V1019C260 1058 380 1125 470 1221C520 1274 565 1341 590 1415H815Z"/>
<path transform="translate(609.2 1553.5) scale(1 1.04) translate(-15.34 0) scale(0.014160 -0.014160)" d="M815 0H530V1020C430 930 300 861 156 813V1019C260 1058 380 1125 470 1221C520 1274 565 1341 590 1415H815Z"/>
<path transform="translate(609.2 1553.5) scale(1 1.04) translate(-0.8 0) scale(0.014160 -0.014160)" d="M815 0H530V1020C430 930 300 861 156 813V1019C260 1058 380 1125 470 1221C520 1274 565 1341 590 1415H815Z"/>
<path transform="translate(680.9 1553.5) scale(1 1.04) translate(-16.14 0) scale(0.014160 -0.014160)" d="M815 0H530V1020C430 930 300 861 156 813V1019C260 1058 380 1125 470 1221C520 1274 565 1341 590 1415H815Z"/>
<path transform="translate(505.7 1436.4) scale(1 1.04) translate(59.31 0) scale(0.015625 -0.015625)" d="M815 0H530V1020C430 930 300 861 156 813V1019C260 1058 380 1125 470 1221C520 1274 565 1341 590 1415H815Z"/>
<path transform="translate(505.7 1436.4) scale(1 1.04) translate(94.91 0) scale(0.015625 -0.015625)" d="M815 0H530V1020C430 930 300 861 156 813V1019C260 1058 380 1125 470 1221C520 1274 565 1341 590 1415H815Z"/>
<path transform="translate(804.6 1364.23) scale(1 1.04) translate(-40.33 0) scale(0.014160 -0.014160)" d="M815 0H530V1020C430 930 300 861 156 813V1019C260 1058 380 1125 470 1221C520 1274 565 1341 590 1415H815Z"/>
<path transform="translate(804.6 1305.5) scale(1 1.04) translate(-40.33 0) scale(0.014160 -0.014160)" d="M815 0H530V1020C430 930 300 861 156 813V1019C260 1058 380 1125 470 1221C520 1274 565 1341 590 1415H815Z"/>
<path transform="translate(804.6 1246.77) scale(1 1.04) translate(-40.33 0) scale(0.014160 -0.014160)" d="M815 0H530V1020C430 930 300 861 156 813V1019C260 1058 380 1125 470 1221C520 1274 565 1341 590 1415H815Z"/>
<path transform="translate(804.6 1188.03) scale(1 1.04) translate(-40.33 0) scale(0.014160 -0.014160)" d="M815 0H530V1020C430 930 300 861 156 813V1019C260 1058 380 1125 470 1221C520 1274 565 1341 590 1415H815Z"/>
<path transform="translate(804.6 1129.3) scale(1 1.04) translate(-40.33 0) scale(0.014160 -0.014160)" d="M815 0H530V1020C430 930 300 861 156 813V1019C260 1058 380 1125 470 1221C520 1274 565 1341 590 1415H815Z"/>
<path transform="translate(1255.1 1548.8) scale(1 1.04) translate(-16.14 0) scale(0.014160 -0.014160)" d="M815 0H530V1020C430 930 300 861 156 813V1019C260 1058 380 1125 470 1221C520 1274 565 1341 590 1415H815Z"/>
<path transform="translate(1326.8 1548.8) scale(1 1.04) translate(-15.34 0) scale(0.014160 -0.014160)" d="M815 0H530V1020C430 930 300 861 156 813V1019C260 1058 380 1125 470 1221C520 1274 565 1341 590 1415H815Z"/>
<path transform="translate(1326.8 1548.8) scale(1 1.04) translate(-0.8 0) scale(0.014160 -0.014160)" d="M815 0H530V1020C430 930 300 861 156 813V1019C260 1058 380 1125 470 1221C520 1274 565 1341 590 1415H815Z"/>
<path transform="translate(1398.5 1548.8) scale(1 1.04) translate(-16.14 0) scale(0.014160 -0.014160)" d="M815 0H530V1020C430 930 300 861 156 813V1019C260 1058 380 1125 470 1221C520 1274 565 1341 590 1415H815Z"/>
<path transform="translate(1220.2 1481) scale(1 1.04) translate(100.5 0) scale(0.015625 -0.015625)" d="M815 0H530V1020C430 930 300 861 156 813V1019C260 1058 380 1125 470 1221C520 1274 565 1341 590 1415H815Z"/>
</g>
</svg>
</body></html>
